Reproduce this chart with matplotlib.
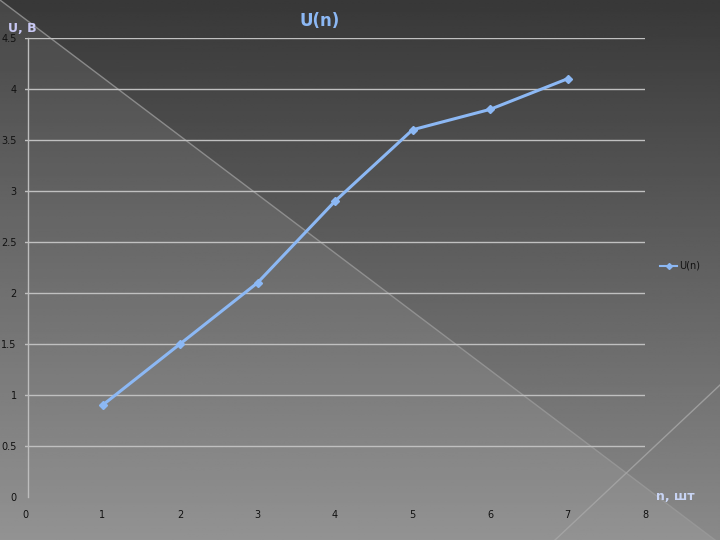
import numpy as np
import matplotlib
matplotlib.use("Agg")
import matplotlib.pyplot as plt
from matplotlib.patches import Polygon
from matplotlib.lines import Line2D

n_values = [1, 2, 3, 4, 5, 6, 7]
u_values = [0.9, 1.5, 2.1, 2.9, 3.6, 3.8, 4.1]
x_ticks = [0, 1, 2, 3, 4, 5, 6, 7, 8]
y_ticks = [0, 0.5, 1, 1.5, 2, 2.5, 3, 3.5, 4, 4.5]
y_tick_labels = ["0", "0.5", "1", "1.5", "2", "2.5", "3", "3.5", "4", "4.5"]

W, H = 720, 540
fig = plt.figure(figsize=(7.2, 5.4), dpi=100)

# background
bg = fig.add_axes([0, 0, 1, 1])
bg.set_xlim(0, W)
bg.set_ylim(H, 0)
bg.axis("off")
grad = np.linspace(0.22, 0.54, 256).reshape(-1, 1)
grad = np.repeat(grad, 2, axis=1)
bg.imshow(grad, cmap="gray", vmin=0, vmax=1, extent=[0, W, H, 0], aspect="auto", zorder=0)
bg.add_patch(Polygon([[0, 0], [715, 540], [0, 540]], closed=True, facecolor="white",
                     alpha=0.08, edgecolor="none", zorder=1))
bg.plot([0, 715], [0, 540], color="#9a9a9a", lw=1, alpha=0.8, zorder=2)
bg.plot([720, 555], [385, 540], color="#a8a8a8", lw=1, alpha=0.8, zorder=2)

ax = fig.add_axes([25 / W, 1 - 497 / H, 620 / W, 459 / H])
ax.patch.set_alpha(0)
ax.set_xlim(0, 8)
ax.set_ylim(0, 4.5)
for s in ["top", "right", "bottom"]:
    ax.spines[s].set_visible(False)
ax.spines["left"].set_color("#bdbdbd")
ax.spines["left"].set_linewidth(1)
ax.spines["left"].set_position(("outward", -2))
ax.set_yticks(y_ticks)
ax.set_yticklabels(y_tick_labels)
ax.set_xticks(x_ticks)
ax.tick_params(axis="both", length=0, labelsize=7, colors="#111111")
ax.tick_params(axis="x", pad=9)
ax.tick_params(axis="y", pad=8)
ax.grid(axis="y", color="#c0c0c0", lw=1)
ax.grid(axis="x", visible=False)
ax.set_axisbelow(True)
ax.get_ygridlines()[0].set_visible(False)

ax.plot(n_values, u_values, color="#8cb8f4", lw=2.2, marker="D", markersize=4,
        markerfacecolor="#8cb8f4", markeredgecolor="#8cb8f4", zorder=3)

fig.text(320 / W, 1 - 21 / H, "U(n)", color="#8cb8f4", fontsize=12, fontweight="bold",
         ha="center", va="center")
fig.text(8 / W, 1 - 28 / H, "U, B", color="#c8c8f4", fontsize=9, fontweight="bold",
         ha="left", va="center")
fig.text(656 / W, 1 - 497 / H, "n, шт", color="#c8d4f4", fontsize=9, fontweight="bold",
         ha="left", va="center")

handle = Line2D([0], [0], color="#8cb8f4", lw=1.5, marker="D", markersize=3)
leg = fig.legend([handle], ["U(n)"], loc="center left",
                 bbox_to_anchor=(655 / W, 1 - 266 / H), frameon=False,
                 fontsize=7, handlelength=1.8, handletextpad=0.2, borderpad=0)
for t in leg.get_texts():
    t.set_color("#111111")

fig.savefig("out.png", dpi=100)
